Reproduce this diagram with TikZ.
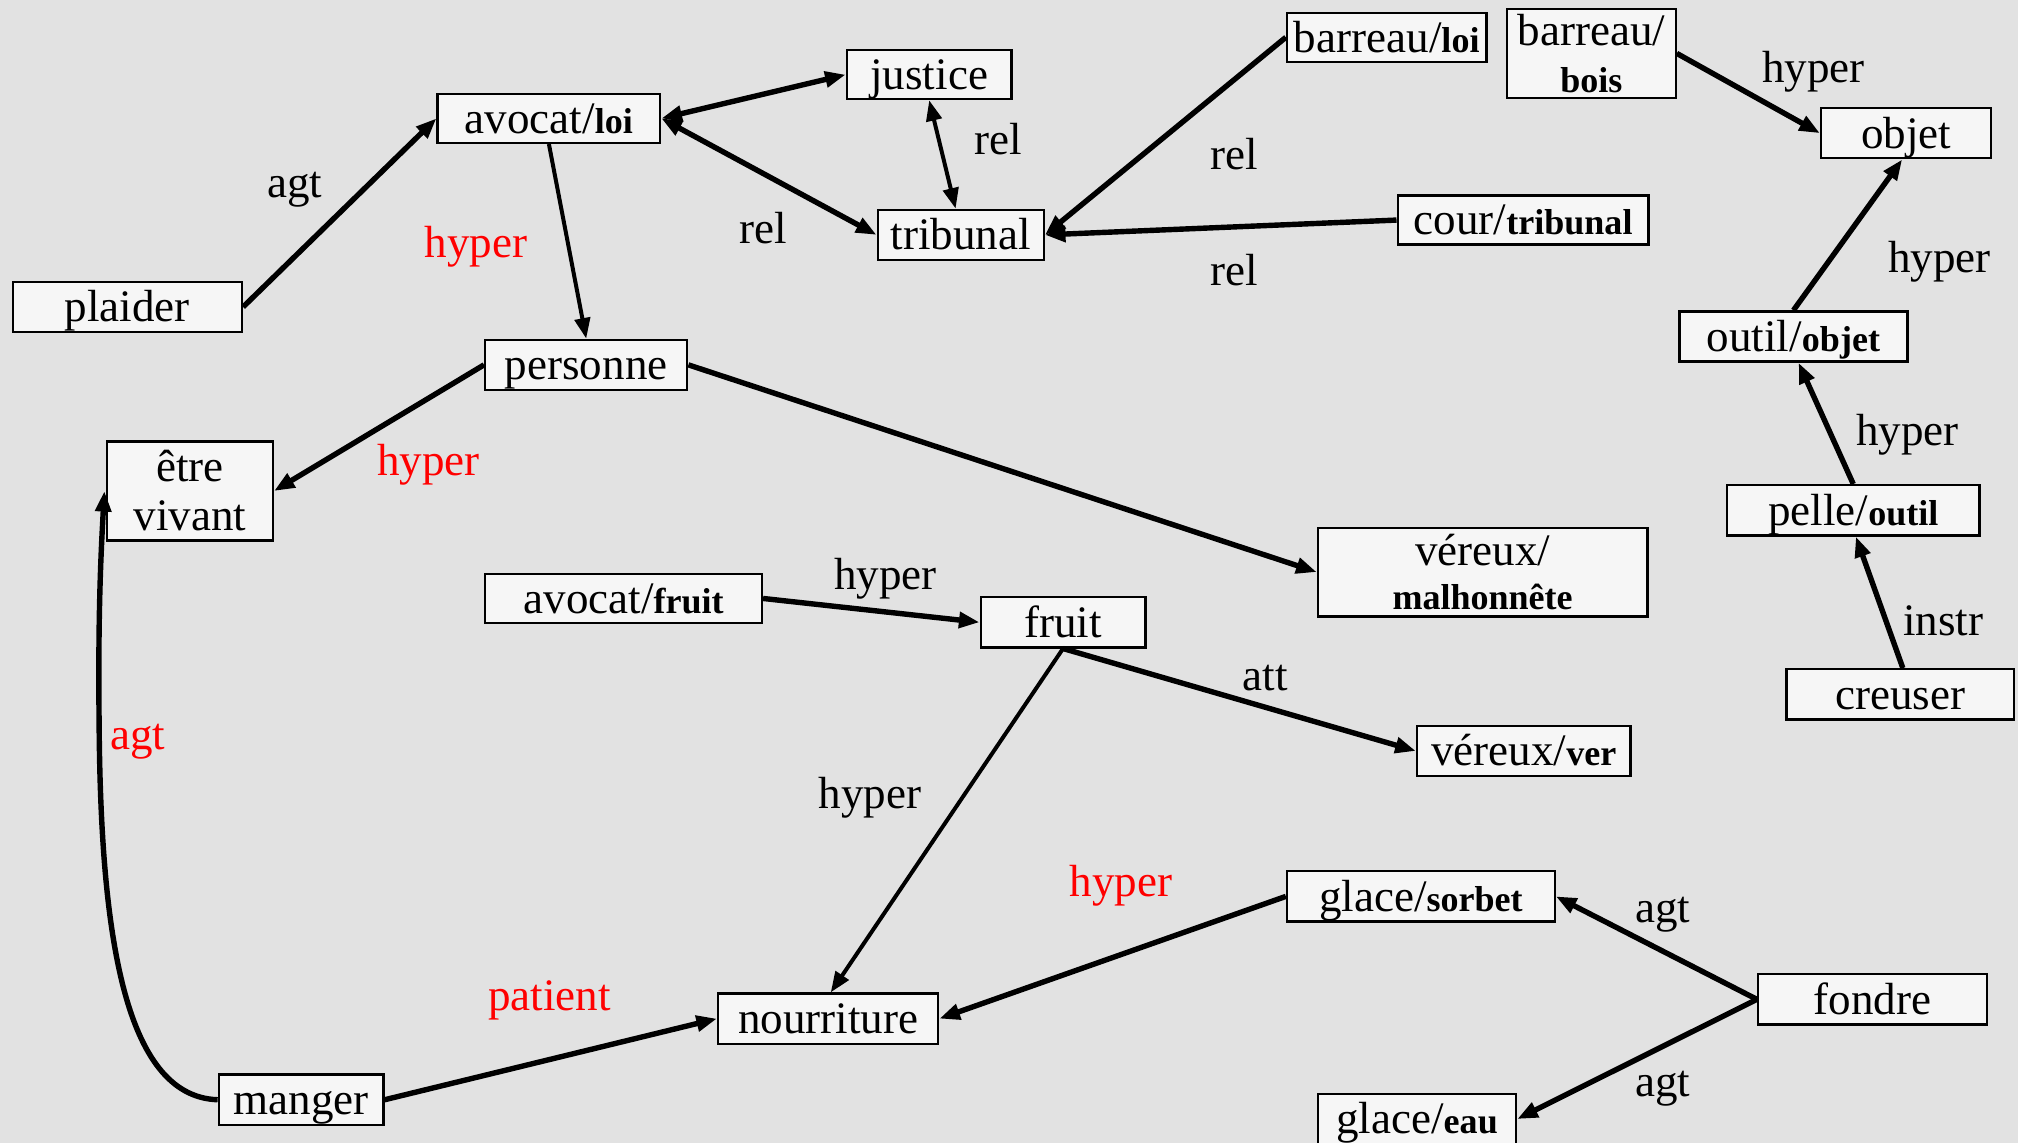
\documentclass[tikz,border=0pt]{standalone}
\usepackage{fontspec}
\setmainfont{Liberation Serif}
\usetikzlibrary{arrows.meta}
\definecolor{bgcol}{RGB}{226,226,226}
\definecolor{boxfill}{RGB}{246,246,246}
\definecolor{lblred}{RGB}{255,0,0}
\newcommand{\bw}[1]{{\fontsize{28}{30}\selectfont\bfseries #1}}
\tikzset{
  box/.style={draw=black, line width=1.8pt, fill=boxfill, inner sep=0pt, align=center,
    font=\fontsize{35}{37}\selectfont},
  sbox/.style={box, text height=30pt, text depth=7pt},
  lbl/.style={inner sep=0pt, font=\fontsize{35}{37}\selectfont},
  redlbl/.style={lbl, text=lblred},
  conn/.style={line width=4.2pt, -{Triangle[length=16pt,width=12pt]}},
  thinconn/.style={line width=3.1pt, -{Triangle[length=16pt,width=12pt]}},
  biconn/.style={line width=4.2pt, {Triangle[length=16pt,width=12pt]}-{Triangle[length=16pt,width=12pt]}},
  thinbiconn/.style={line width=3.1pt, {Triangle[length=16pt,width=12pt]}-{Triangle[length=16pt,width=12pt]}},
}
\begin{document}
\begin{tikzpicture}[x=1pt,y=-1pt]
\fill[bgcol] (0,0) rectangle (1568,888);
\useasboundingbox (0,0) rectangle (1568,888);

% nodes
\node[sbox, minimum width=178pt, minimum height=39pt] (plaider) at (99,238.5) {plaider};
\node[sbox, minimum width=173pt, minimum height=38pt] (avloi) at (426.5,92) {avocat/\bw{loi}};
\node[sbox, minimum width=128pt, minimum height=38pt] (justice) at (722,58) {justice};
\node[sbox, minimum width=129pt, minimum height=39pt] (tribunal) at (746.5,182.5) {tribunal};
\node[sbox, minimum width=155pt, minimum height=38pt] (barloi) at (1077.5,29) {barreau/\bw{loi}};
\node[box, minimum width=131pt, minimum height=69pt, font=\fontsize{35}{36}\selectfont] (barbois) at (1236.5,41.5) {barreau/\\\bw{bois}};
\node[sbox, minimum width=132pt, minimum height=39pt] (objet) at (1481,103.5) {objet};
\node[sbox, minimum width=195pt, minimum height=38pt] (cour) at (1183.5,171) {cour/\bw{tribunal}};
\node[sbox, minimum width=177pt, minimum height=39pt] (outil) at (1393.5,261.5) {outil/\bw{objet}};
\node[sbox, minimum width=157pt, minimum height=39pt] (personne) at (455.5,283.5) {personne};
\node[box, minimum width=129pt, minimum height=77pt, font=\fontsize{35}{38}\selectfont] (etre) at (147.5,381.5) {être\\vivant};
\node[sbox, minimum width=196pt, minimum height=39pt] (pelle) at (1440,396.5) {pelle/\bw{outil}};
\node[box, minimum width=256pt, minimum height=69pt, font=\fontsize{35}{34}\selectfont] (vermal) at (1152,444.5) {véreux/\\\bw{malhonnête}};
\node[sbox, minimum width=215pt, minimum height=38pt] (avfruit) at (484.5,465) {avocat/\bw{fruit}};
\node[sbox, minimum width=128pt, minimum height=39pt] (fruit) at (826,483.5) {fruit};
\node[sbox, minimum width=166pt, minimum height=39pt] (verver) at (1184,583.5) {véreux/\bw{ver}};
\node[sbox, minimum width=177pt, minimum height=39pt] (creuser) at (1476.5,539.5) {creuser};
\node[sbox, minimum width=208pt, minimum height=39pt] (sorbet) at (1104,696.5) {glace/\bw{sorbet}};
\node[sbox, minimum width=178pt, minimum height=39pt] (fondre) at (1455,776.5) {fondre};
\node[sbox, minimum width=171pt, minimum height=39pt] (nourriture) at (643.5,791.5) {nourriture};
\node[sbox, minimum width=128pt, minimum height=39pt] (manger) at (234,854.5) {manger};
\node[sbox, minimum width=154pt, minimum height=39pt] (eau) at (1101,869.5) {glace/\bw{eau}};

% labels
\node[lbl] (l1) at (229,147) {agt};
\node[redlbl] (l2) at (370,192) {hyper};
\node[lbl] (l3) at (593,177) {rel};
\node[lbl] (l4) at (776,108) {rel};
\node[lbl] (l5) at (959,120) {rel};
\node[lbl] (l6) at (959,210) {rel};
\node[lbl] (l7) at (1409,56) {hyper};
\node[lbl] (l8) at (1507,203) {hyper};
\node[lbl] (l9) at (1482,338) {hyper};
\node[lbl] (l10) at (1510,482) {instr};
\node[redlbl] (l11) at (333,361) {hyper};
\node[lbl] (l12) at (688,450) {hyper};
\node[lbl] (l13) at (983,527) {att};
\node[lbl] (l14) at (676,620) {hyper};
\node[redlbl] (l15) at (871,688) {hyper};
\node[redlbl] (l16) at (107,576) {agt};
\node[redlbl] (l17) at (427,777) {patient};
\node[lbl] (l18) at (1292,711) {agt};
\node[lbl] (l19) at (1292,846) {agt};

% connectors
\draw[conn] (plaider.east) -- (avloi.west);
\draw[biconn] (avloi.east) -- (justice.west);
\draw[biconn] (avloi.east) -- (tribunal.west);
\draw[thinbiconn] (justice.south) -- ([xshift=-4pt]tribunal.north);
\draw[conn] (barloi.west) -- (tribunal.east);
\draw[conn] (cour.west) -- (tribunal.east);
\draw[conn] (barbois.east) -- (objet.west);
\draw[conn] (outil.north) -- ([xshift=-3pt]objet.south);
\draw[conn] (pelle.north) -- ([xshift=4pt]outil.south);
\draw[conn] ([xshift=2pt]creuser.north) -- ([xshift=2pt]pelle.south);
\draw[thinconn] (avloi.south) -- (personne.north);
\draw[conn] (personne.west) -- (etre.east);
\draw[conn] (personne.east) -- (vermal.west);
\draw[conn] (avfruit.east) -- (fruit.west);
\draw[conn] (fruit.south) -- (verver.west);
\draw[thinconn] (fruit.south) -- ([xshift=2pt]nourriture.north);
\draw[conn] (sorbet.west) -- (nourriture.east);
\draw[conn] (fondre.west) -- (sorbet.east);
\draw[conn] (fondre.west) -- (eau.east);
\draw[conn] (manger.east) -- (nourriture.west);
\draw[conn] (manger.west) .. controls (95,852) and (78,720) .. (77,560)
  .. controls (76,470) and (79,420) .. ([xshift=-1pt]etre.west);
\end{tikzpicture}
\end{document}
